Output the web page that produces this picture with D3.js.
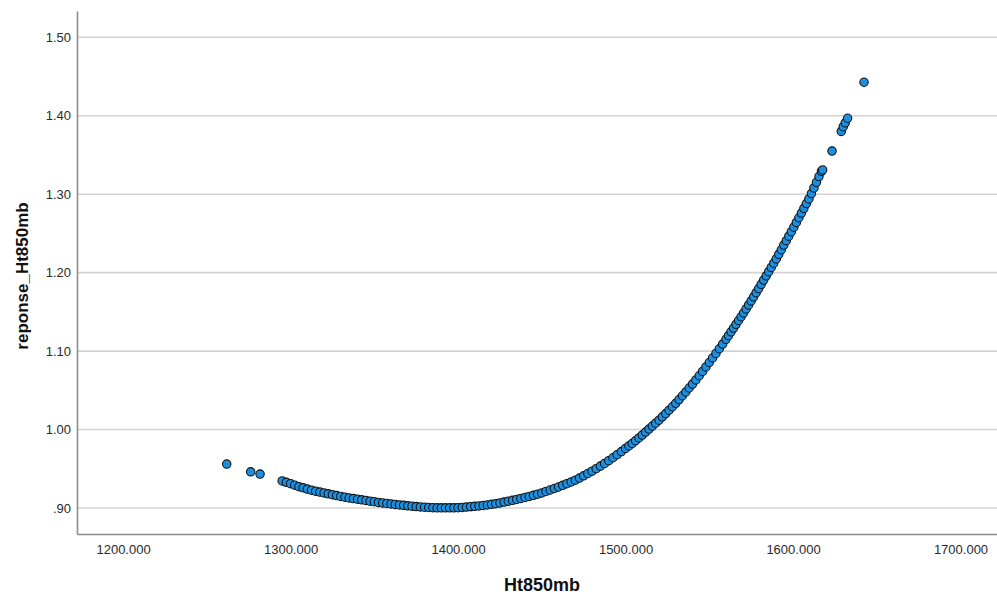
<!DOCTYPE html>
<html>
<head>
<meta charset="utf-8">
<script src="https://cdn.jsdelivr.net/npm/d3@7"></script>
<style>
  html, body { margin: 0; padding: 0; background: #fff; }
  svg { display: block; font-family: "Liberation Sans", Arial, sans-serif; }
</style>
</head>
<body>
<svg id="chart" width="997" height="596"></svg>
<script>
// Geopotential height at 850 mb and the fitted response
const ht850mb = [
  1261.9, 1276.2, 1281.8,
  1295, 1297.5, 1300, 1302.5, 1305, 1307.5, 1310, 1312.5, 1315, 1317.5,
  1320, 1322.5, 1325, 1327.5, 1330, 1332.5, 1335, 1337.5, 1340, 1342.5,
  1345, 1347.5, 1350, 1352.5, 1355, 1357.5, 1360, 1362.5, 1365, 1367.5,
  1370, 1372.5, 1375, 1377.5, 1380, 1382.5, 1385, 1387.5, 1390, 1392.5,
  1395, 1397.5, 1400,
  1402.5, 1405, 1407.5, 1410, 1412.5, 1415, 1417.5, 1420, 1422.5, 1425,
  1427.5, 1430, 1432.5, 1435, 1437.5, 1440, 1442.5, 1445, 1447.5, 1450,
  1452.5, 1455, 1457.5, 1460, 1462.5, 1465, 1467.5, 1470, 1472.5, 1475,
  1477.5, 1480, 1482.5, 1485, 1487.5, 1490, 1492.5, 1495, 1497.5, 1500,
  1502, 1504, 1506, 1508, 1510, 1512, 1514, 1516, 1518, 1520,
  1522, 1524, 1526, 1528, 1530, 1532, 1534, 1536, 1538, 1540,
  1542, 1544, 1546, 1548, 1550, 1552, 1554, 1556, 1558, 1560,
  1561.5, 1563, 1564.5, 1566, 1567.5, 1569, 1570.5, 1572, 1573.5, 1575,
  1576.5, 1578, 1579.5, 1581, 1582.5, 1584, 1585.5, 1587, 1588.5, 1590,
  1591.5, 1593, 1594.5, 1596, 1597.5, 1599, 1600.5, 1602, 1603.5, 1605,
  1606.5, 1608, 1609.5, 1611, 1612.5, 1614, 1615.5, 1617, 1617.7,
  1623.3, 1628.8, 1630.0, 1631.2, 1632.6, 1642.4
];

const reponse = [
  0.956, 0.9462, 0.9433,
  0.9345, 0.9327, 0.9310, 0.9291, 0.9272, 0.9257, 0.9242, 0.9228, 0.9215, 0.9203,
  0.9192, 0.9181, 0.9170, 0.9159, 0.9148, 0.9138, 0.9128, 0.9120, 0.9112, 0.9104,
  0.9097, 0.9088, 0.9080, 0.9072, 0.9065, 0.9058, 0.9052, 0.9046, 0.9040, 0.9034,
  0.9028, 0.9023, 0.9018, 0.9014, 0.9010, 0.9007, 0.9005, 0.9003, 0.9002, 0.9002,
  0.9002, 0.9003, 0.9005,
  0.9008, 0.9012, 0.9017, 0.9022, 0.9027, 0.9033, 0.9040, 0.9047, 0.9056, 0.9065,
  0.9076, 0.9087, 0.9098, 0.9110, 0.9122, 0.9135, 0.9148, 0.9162, 0.9177, 0.9192,
  0.9211, 0.9230, 0.9249, 0.9268, 0.9289, 0.9310, 0.9332, 0.9355, 0.9382, 0.9410,
  0.9440, 0.9470, 0.9502, 0.9535, 0.9569, 0.9603, 0.9641, 0.9680, 0.9720, 0.9760,
  0.9792, 0.9824, 0.9858, 0.9894, 0.9930, 0.9968, 1.0006, 1.0044, 1.0082, 1.0120,
  1.0162, 1.0204, 1.0247, 1.0291, 1.0335, 1.0383, 1.0431, 1.0480, 1.0530, 1.0580,
  1.0633, 1.0686, 1.0741, 1.0798, 1.0855, 1.0913, 1.0971, 1.1030, 1.1090, 1.1150,
  1.1198, 1.1246, 1.1294, 1.1342, 1.1390, 1.1438, 1.1487, 1.1538, 1.1589, 1.1640,
  1.1692, 1.1745, 1.1797, 1.1851, 1.1905, 1.1959, 1.2013, 1.2067, 1.2121, 1.2175,
  1.2234, 1.2292, 1.2351, 1.2408, 1.2465, 1.2522, 1.2580, 1.2640, 1.2700, 1.2760,
  1.2820, 1.2880, 1.2940, 1.3008, 1.3080, 1.3152, 1.3224, 1.3292, 1.3310,
  1.355, 1.380, 1.386, 1.391, 1.3968, 1.4427
];

const xTicks = [1200, 1300, 1400, 1500, 1600, 1700];
const yTicks = [0.90, 1.00, 1.10, 1.20, 1.30, 1.40, 1.50];
const xTitle = "Ht850mb";
const yTitle = "reponse_Ht850mb";

const points = ht850mb.map((h, i) => ({ h, r: reponse[i] }));

const svg = d3.select("#chart");
const plot = { left: 77, right: 997, top: 11, bottom: 534 };

const x = d3.scaleLinear().domain([1172.5, 1721.8]).range([plot.left, plot.right]);
const y = d3.scaleLinear().domain([0.8669, 1.5335]).range([plot.bottom, plot.top]);

// horizontal grid lines
svg.append("g")
  .selectAll("line")
  .data(yTicks)
  .join("line")
  .attr("x1", plot.left)
  .attr("x2", plot.right)
  .attr("y1", d => y(d))
  .attr("y2", d => y(d))
  .attr("stroke", "#d3d3d3")
  .attr("stroke-width", 1.6);

// y axis
const fmtY = d => d3.format(".2f")(d).replace(/^0\./, ".");
const yAxis = svg.append("g")
  .attr("transform", `translate(${plot.left},0)`)
  .call(d3.axisLeft(y).tickValues(yTicks).tickFormat(fmtY).tickSize(0).tickPadding(6));
yAxis.select(".domain").attr("stroke", "#8c8c8c").attr("stroke-width", 1.6);
yAxis.selectAll("text")
  .attr("fill", "#2a2a2a")
  .style("font-size", "13px")
  .style("font-family", "'Liberation Sans', Arial, sans-serif");

// x axis
const xAxis = svg.append("g")
  .attr("transform", `translate(0,${plot.bottom})`)
  .call(d3.axisBottom(x).tickValues(xTicks).tickFormat(d3.format(".3f")).tickSize(0).tickPadding(11));
xAxis.select(".domain").attr("stroke", "#8c8c8c").attr("stroke-width", 1.6);
xAxis.selectAll("text")
  .attr("fill", "#2a2a2a")
  .style("font-size", "13px")
  .style("font-family", "'Liberation Sans', Arial, sans-serif");

// scatter points
svg.append("g")
  .selectAll("circle")
  .data(points)
  .join("circle")
  .attr("cx", d => x(d.h))
  .attr("cy", d => y(d.r))
  .attr("r", 4.2)
  .attr("fill", "#1c8fe0")
  .attr("stroke", "#141414")
  .attr("stroke-width", 1.1);

// axis titles
svg.append("text")
  .attr("x", 542)
  .attr("y", 591)
  .attr("text-anchor", "middle")
  .attr("fill", "#111")
  .style("font-size", "18px")
  .style("font-weight", "bold")
  .text(xTitle);

svg.append("text")
  .attr("transform", "translate(28,276) rotate(-90)")
  .attr("text-anchor", "middle")
  .attr("fill", "#111")
  .style("font-size", "17px")
  .style("font-weight", "bold")
  .text(yTitle);
</script>
</body>
</html>
